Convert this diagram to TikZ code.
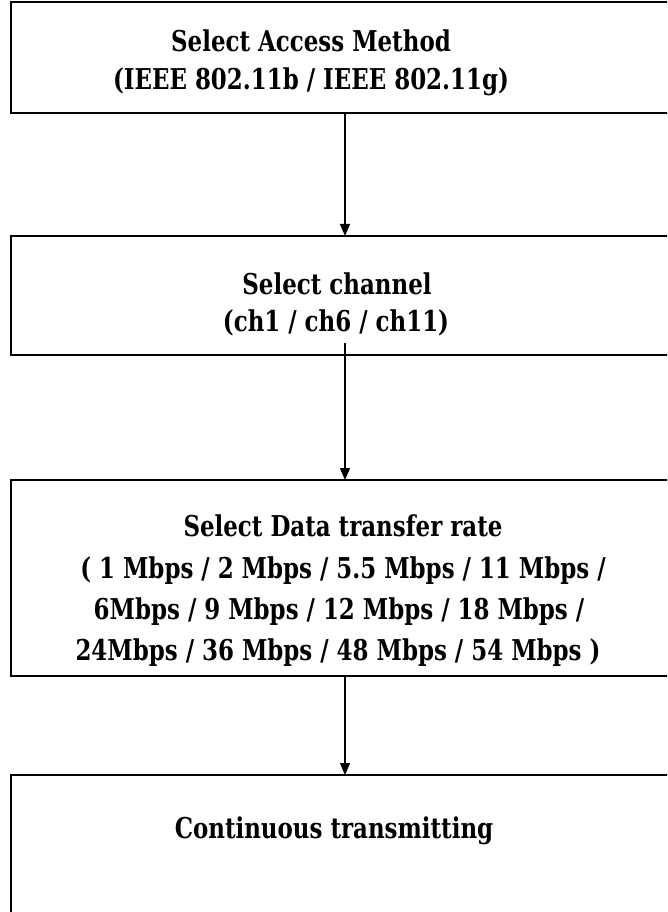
\documentclass[tikz,border=0pt]{standalone}
\usepackage{fontspec}
\setmainfont{DejaVu Serif}[FakeStretch=0.8]
\usetikzlibrary{arrows.meta}
\begin{document}
\begin{tikzpicture}[x=0.75pt,y=-0.75pt,
  box/.style={draw,line width=1.5pt,inner sep=0pt,outer sep=0pt,minimum width=501pt},
  txt/.style={anchor=base,inner sep=0pt,font=\fontsize{21.5pt}{26pt}\selectfont\bfseries},
  flow/.style={line width=0.9pt,-{Triangle[length=9pt,width=7.5pt]}}]
\useasboundingbox (0,0) rectangle (667,912);
\clip (0,0) rectangle (667,912);
\node[box,minimum height=83.25pt] (b1) at (345,57.5) {};
\node[box,minimum height=89.25pt] (b2) at (345,295.5) {};
\node[box,minimum height=147pt] (b3) at (345,578) {};
\node[box,minimum height=150pt] (b4) at (345,875) {};
\node[txt] (t1a) at (311,52) {Select Access Method};
\node[txt] (t1b) at (311,90) {(IEEE 802.11b / IEEE 802.11g)};
\node[txt] (t2a) at (337,295) {Select channel};
\node[txt] (t2b) at (336,332) {(ch1 / ch6 / ch11)};
\node[txt] (t3a) at (343,536) {Select Data transfer rate};
\node[txt] (t3b) at (343,578) {( 1 Mbps / 2 Mbps / 5.5 Mbps / 11 Mbps /};
\node[txt] (t3c) at (339,619) {6Mbps / 9 Mbps / 12 Mbps / 18 Mbps /};
\node[txt] (t3d) at (338,660) {24Mbps / 36 Mbps / 48 Mbps / 54 Mbps )};
\node[txt] (t4a) at (334,838) {Continuous transmitting};
\coordinate (c2) at (345,343);
\draw[flow] (b1.south) -- (b2.north);
\draw[flow] (c2) -- (b3.north);
\draw[flow] (b3.south) -- (b4.north);
\end{tikzpicture}
\end{document}
